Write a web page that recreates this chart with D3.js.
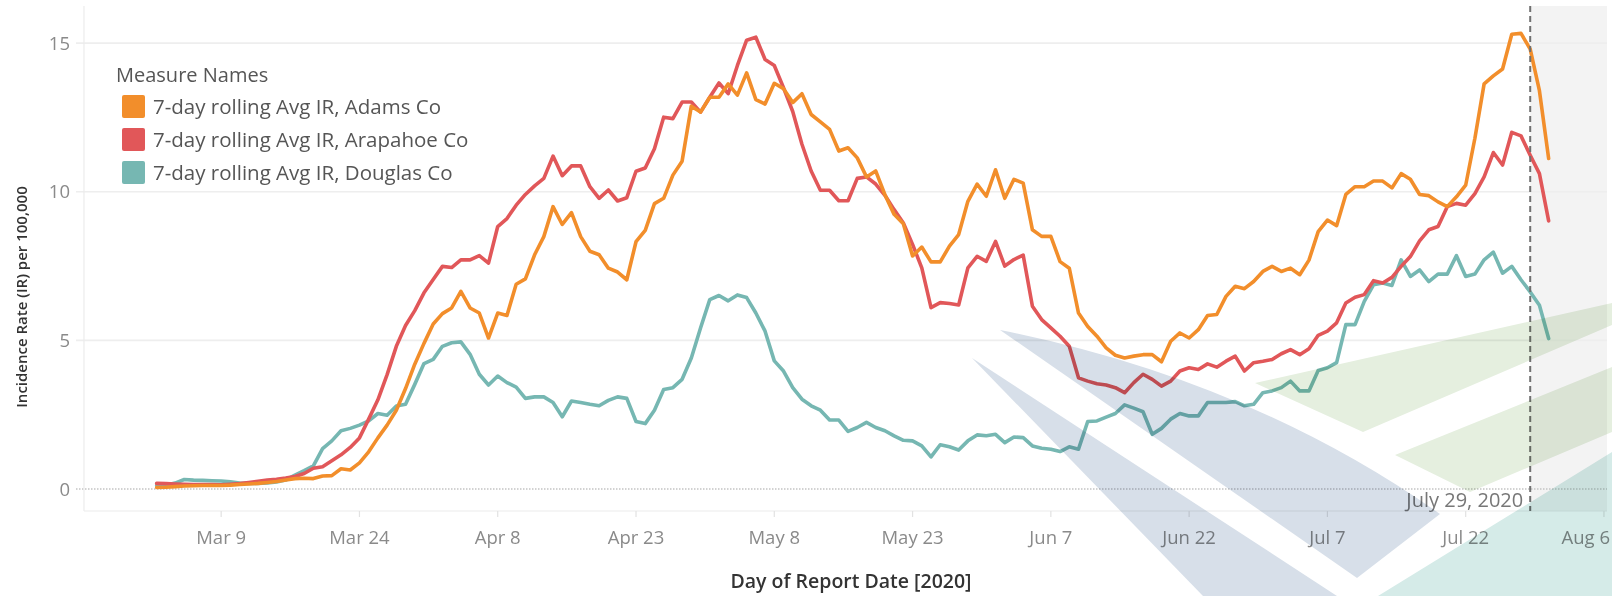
<!DOCTYPE html>
<html><head><meta charset="utf-8">
<script src="https://cdn.jsdelivr.net/npm/d3@7"></script>
<style>
body{margin:0;background:#fff;}
svg{display:block;font-family:"Open Sans",sans-serif;}
</style></head><body>
<svg id="chart" width="1612" height="596"></svg>
<script>
// ---------- data ----------
const startDate = "2020-03-02";   // first daily value
const adams = [0.05,0.06,0.08,0.10,0.11,0.12,0.12,0.12,0.13,0.15,0.17,0.19,0.22,0.25,0.30,0.35,0.36,0.35,0.44,0.45,
0.68,0.64,0.88,1.25,1.72,2.15,2.65,3.38,4.20,4.90,5.55,5.90,6.09,6.65,6.09,5.92,5.08,5.92,5.84,6.89,
7.07,7.88,8.49,9.50,8.90,9.30,8.49,8.00,7.88,7.43,7.30,7.04,8.32,8.70,9.60,9.78,10.56,11.03,12.88,12.68,
13.18,13.18,13.63,13.25,14.00,13.10,12.95,13.65,13.47,13.00,13.30,12.60,12.35,12.10,11.37,11.48,11.14,10.50,10.70,9.90,
9.24,8.92,7.84,8.14,7.64,7.64,8.17,8.56,9.68,10.26,9.85,10.74,9.78,10.42,10.29,8.72,8.50,8.50,7.65,7.43,
5.92,5.47,5.14,4.75,4.50,4.41,4.47,4.52,4.52,4.28,4.97,5.25,5.08,5.36,5.84,5.87,6.48,6.82,6.74,6.98,
7.32,7.49,7.32,7.43,7.21,7.70,8.66,9.05,8.86,9.91,10.17,10.17,10.36,10.36,10.13,10.61,10.42,9.91,9.87,9.66,
9.50,9.83,10.22,11.80,13.63,13.90,14.13,15.30,15.33,14.80,13.40,11.12];
const arapahoe = [0.19,0.18,0.17,0.16,0.15,0.15,0.15,0.14,0.16,0.18,0.22,0.26,0.30,0.33,0.37,0.42,0.52,0.70,0.75,0.95,
1.15,1.40,1.72,2.35,3.00,3.85,4.80,5.50,6.00,6.60,7.05,7.49,7.45,7.71,7.71,7.85,7.60,8.83,9.10,9.55,
9.91,10.20,10.45,11.20,10.54,10.87,10.87,10.17,9.78,10.06,9.69,9.80,10.69,10.80,11.45,12.51,12.46,13.02,13.02,12.68,
13.18,13.66,13.30,14.25,15.10,15.20,14.45,14.25,13.50,12.70,11.60,10.70,10.05,10.05,9.70,9.70,10.45,10.50,10.26,9.88,
9.40,8.95,8.23,7.44,6.10,6.27,6.24,6.19,7.44,7.83,7.66,8.33,7.50,7.72,7.87,6.15,5.70,5.42,5.14,4.80,
3.74,3.63,3.54,3.50,3.41,3.24,3.58,3.86,3.69,3.46,3.63,3.97,4.08,4.02,4.21,4.10,4.30,4.47,3.97,4.25,
4.30,4.36,4.55,4.69,4.52,4.72,5.17,5.31,5.59,6.26,6.45,6.54,7.01,6.93,7.12,7.49,7.82,8.35,8.72,8.83,
9.50,9.61,9.55,9.94,10.50,11.32,10.90,12.00,11.88,11.23,10.61,9.02];
const douglas = [0.12,0.13,0.20,0.32,0.30,0.29,0.28,0.27,0.24,0.20,0.19,0.19,0.20,0.24,0.30,0.47,0.62,0.78,1.36,1.62,
1.96,2.04,2.15,2.29,2.54,2.48,2.79,2.85,3.52,4.22,4.36,4.80,4.92,4.95,4.53,3.86,3.50,3.80,3.58,3.43,
3.05,3.10,3.10,2.91,2.43,2.96,2.91,2.85,2.80,2.98,3.10,3.05,2.27,2.20,2.65,3.35,3.41,3.69,4.41,5.42,
6.37,6.51,6.33,6.53,6.44,5.92,5.31,4.31,3.97,3.41,3.02,2.80,2.65,2.32,2.32,1.94,2.07,2.24,2.07,1.96,
1.79,1.64,1.62,1.45,1.08,1.49,1.42,1.31,1.62,1.82,1.79,1.84,1.56,1.75,1.73,1.45,1.37,1.34,1.26,1.42,
1.34,2.27,2.29,2.42,2.54,2.83,2.72,2.60,1.84,2.04,2.35,2.54,2.46,2.46,2.91,2.91,2.91,2.94,2.80,2.85,
3.24,3.30,3.41,3.63,3.30,3.30,3.99,4.08,4.25,5.53,5.53,6.31,6.87,6.93,6.85,7.71,7.15,7.37,6.98,7.23,
7.23,7.85,7.15,7.23,7.71,7.97,7.26,7.49,7.04,6.63,6.18,5.06];
const seriesNames = ["7-day rolling Avg IR, Adams Co","7-day rolling Avg IR, Arapahoe Co","7-day rolling Avg IR, Douglas Co"];
const seriesColors = ["#F28E2B","#E15759","#76B7B2"];
const yTicks = [0,5,10,15];
const xTickDates = ["2020-03-09","2020-03-24","2020-04-08","2020-04-23","2020-05-08","2020-05-23","2020-06-07","2020-06-22","2020-07-07","2020-07-22","2020-08-06"];
const xTickLabels = ["Mar 9","Mar 24","Apr 8","Apr 23","May 8","May 23","Jun 7","Jun 22","Jul 7","Jul 22","Aug 6"];
const refDate = "2020-07-29";
const refLabel = "July 29, 2020";
const legendTitle = "Measure Names";
const xTitle = "Day of Report Date [2020]";
const yTitle = "Incidence Rate (IR) per 100,000";

// ---------- layout ----------
const DAY = 864e5;
const W = 1612, H = 596;
const plot = {left:84, right:1607, top:6, bottom:511};
const parse = s => new Date(s + "T00:00:00Z");
const anchor = parse("2020-03-09").getTime();

const x = d3.scaleUtc()
  .domain([new Date(anchor - 14.88*DAY), new Date(anchor + 150.33*DAY)])
  .range([plot.left, plot.right]);
const y = d3.scaleLinear().domain([-0.74, 16.25]).range([plot.bottom, plot.top]);

const svg = d3.select("#chart");
const t0 = parse(startDate).getTime();
const allSeries = [adams, arapahoe, douglas].map((vals, k) => ({
  name: seriesNames[k], color: seriesColors[k],
  values: vals.map((v, i) => ({date: new Date(t0 + i*DAY), v}))
}));

// shaded "future" region
const xr = x(parse(refDate));
svg.append("rect").attr("x", xr).attr("y", plot.top)
  .attr("width", plot.right - xr).attr("height", plot.bottom - plot.top)
  .attr("fill", "#f3f3f3");

// grid
svg.append("g").selectAll("line").data(yTicks.filter(d => d !== 0)).join("line")
  .attr("x1", 76).attr("x2", plot.right)
  .attr("y1", d => y(d)).attr("y2", d => y(d))
  .attr("stroke", "#eeeeee").attr("stroke-width", 1.6);
svg.append("line").attr("x1", 76).attr("x2", plot.right)
  .attr("y1", y(0)).attr("y2", y(0))
  .attr("stroke", "#c4c4c4").attr("stroke-width", 1.4).attr("stroke-dasharray", "1.5,1.5");

// frame lines
svg.append("line").attr("x1", plot.left).attr("x2", plot.left)
  .attr("y1", plot.top).attr("y2", plot.bottom).attr("stroke", "#ececec").attr("stroke-width", 1.2);
svg.append("line").attr("x1", plot.left).attr("x2", plot.right)
  .attr("y1", plot.bottom).attr("y2", plot.bottom).attr("stroke", "#ececec").attr("stroke-width", 1.2);

// x axis ticks & labels
const xt = svg.append("g");
xTickDates.forEach((ds, i) => {
  const px = x(parse(ds));
  xt.append("line").attr("x1", px).attr("x2", px).attr("y1", plot.bottom).attr("y2", plot.bottom + 6)
    .attr("stroke", "#e2e2e2").attr("stroke-width", 1.2);
  const t = xt.append("text").attr("x", px).attr("y", 544).attr("text-anchor", "middle")
    .attr("font-size", 18.5).attr("fill", "#8a8a8a").text(xTickLabels[i]);
  // keep the last label inside the picture
  const bb = t.node().getBBox();
  if (bb.x + bb.width > W - 2) t.attr("text-anchor", "end").attr("x", W - 2);
});

// y axis labels
svg.append("g").selectAll("text").data(yTicks).join("text")
  .attr("x", 70).attr("y", d => y(d) + 6.5).attr("text-anchor", "end")
  .attr("font-size", 18.5).attr("fill", "#8a8a8a").text(d => d);

// titles
svg.append("text").attr("transform", "translate(27,297) rotate(-90)")
  .attr("text-anchor", "middle").attr("font-size", 15).attr("font-weight", 600)
  .attr("fill", "#333").text(yTitle);
svg.append("text").attr("x", 851).attr("y", 588).attr("text-anchor", "middle")
  .attr("font-size", 19.5).attr("font-weight", 600).attr("fill", "#333").text(xTitle);

// lines
const line = d3.line().x(d => x(d.date)).y(d => y(d.v));
svg.append("g").selectAll("path").data(allSeries.slice().reverse()).join("path")
  .attr("d", d => line(d.values)).attr("fill", "none")
  .attr("stroke", d => d.color).attr("stroke-width", 3.6)
  .attr("stroke-linejoin", "round").attr("stroke-linecap", "round");

// reference line & label
svg.append("line").attr("x1", xr).attr("x2", xr).attr("y1", plot.top).attr("y2", plot.bottom)
  .attr("stroke", "#707070").attr("stroke-width", 2).attr("stroke-dasharray", "6,4");
svg.append("text").attr("x", xr - 7).attr("y", 507).attr("text-anchor", "end")
  .attr("font-size", 20).attr("fill", "#777").text(refLabel);

// legend
const lg = svg.append("g");
lg.append("text").attr("x", 116).attr("y", 82).attr("font-size", 20).attr("fill", "#555").text(legendTitle);
seriesNames.forEach((n, i) => {
  lg.append("rect").attr("x", 122).attr("y", 95 + 33*i).attr("width", 23).attr("height", 23)
    .attr("rx", 2).attr("fill", seriesColors[i]);
  lg.append("text").attr("x", 153).attr("y", 113.5 + 33*i).attr("font-size", 20.5)
    .attr("fill", "#555").text(n);
});

// faint background logo (watermark), multiplied over everything
const wm = svg.append("g").style("mix-blend-mode", "multiply");
wm.append("path").attr("d", "M1000,330 Q1250,380 1440,514 L1357,578 Z").attr("fill", "#d7dfe9");
wm.append("path").attr("d", "M972,358 L1337,596 L1203,596 Z").attr("fill", "#d7dfe9");
wm.append("path").attr("d", "M1255,383 L1612,303 L1612,325 L1363,432 Z").attr("fill", "#e5efdf");
wm.append("path").attr("d", "M1395,455 L1612,367 L1612,432 L1470,492 Z").attr("fill", "#e5efdf");
wm.append("path").attr("d", "M1378,596 L1612,452 L1612,596 Z").attr("fill", "#d5ebe8");
</script>
</body></html>
